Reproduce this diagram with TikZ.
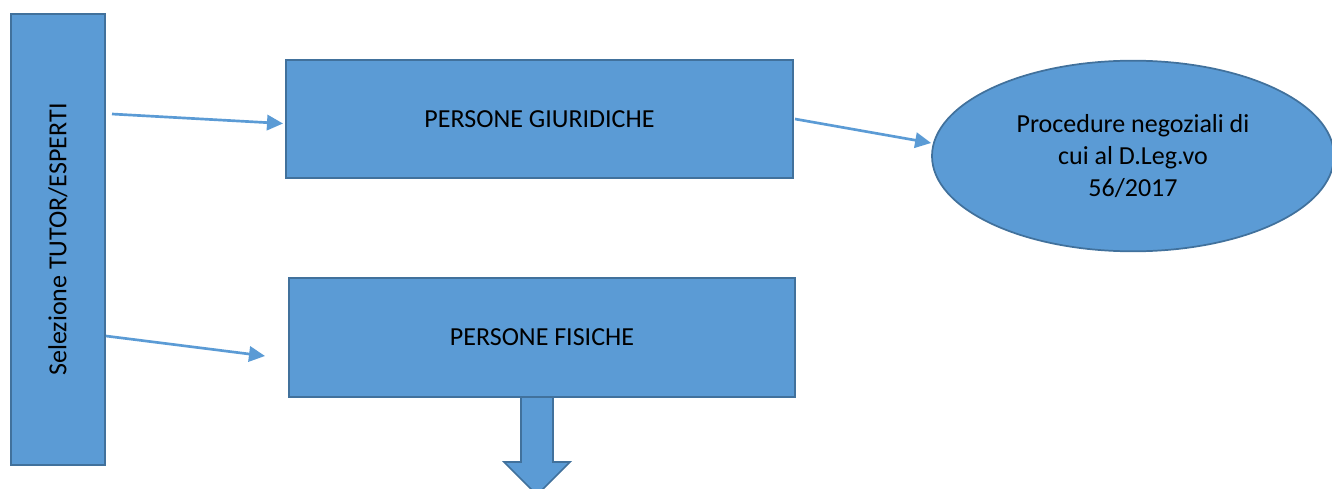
\documentclass[tikz,border=0pt]{standalone}
\usepackage{fontspec}
\setmainfont{Carlito}
\usetikzlibrary{arrows.meta,shapes.geometric}
\definecolor{ofill}{HTML}{5B9BD5}
\definecolor{oline}{HTML}{41719C}
\tikzset{
  box/.style={draw=oline, fill=ofill, line width=1.3pt, inner sep=0pt, text=black,
    font=\fontsize{19.5pt}{24pt}\selectfont},
  conn/.style={draw=ofill, line width=2pt, -{Triangle[length=12pt,width=11.5pt]}},
}
\begin{document}
\begin{tikzpicture}[x=0.75pt,y=-0.75pt]
\useasboundingbox (0,0) rectangle (1332,489);
% block arrow down (drawn first, below the box)
\draw[draw=oline, fill=ofill, line width=1.3pt]
  (521,396) -- (553,396) -- (553,462) -- (570,462) -- (537,495) -- (504,462) -- (521,462) -- cycle;
\node[box, rotate=90, minimum width=338.25pt, minimum height=70.5pt] (sel) at (58,239.5) {Selezione TUTOR/ESPERTI};
\node[box, minimum width=380.25pt, minimum height=88.5pt] (giur) at (539.5,119) {PERSONE GIURIDICHE};
\node[box, minimum width=379.5pt, minimum height=89.25pt] (fis) at (542,337.5) {PERSONE FISICHE};
\node[box, ellipse, minimum width=301.5pt, minimum height=143pt, align=center] (proc) at (1133,156) {Procedure negoziali di\\cui al D.Leg.vo\\56/2017};
\coordinate (a1s) at (112,114);
\coordinate (a1e) at (283,123.5);
\coordinate (a2s) at (106,336);
\coordinate (a2e) at (265,356);
\coordinate (a3s) at (795,119);
\draw[conn] (a1s) -- (a1e);
\draw[conn] (a2s) -- (a2e);
\draw[conn] (a3s) -- (proc.west |- 0,143);
\end{tikzpicture}
\end{document}
